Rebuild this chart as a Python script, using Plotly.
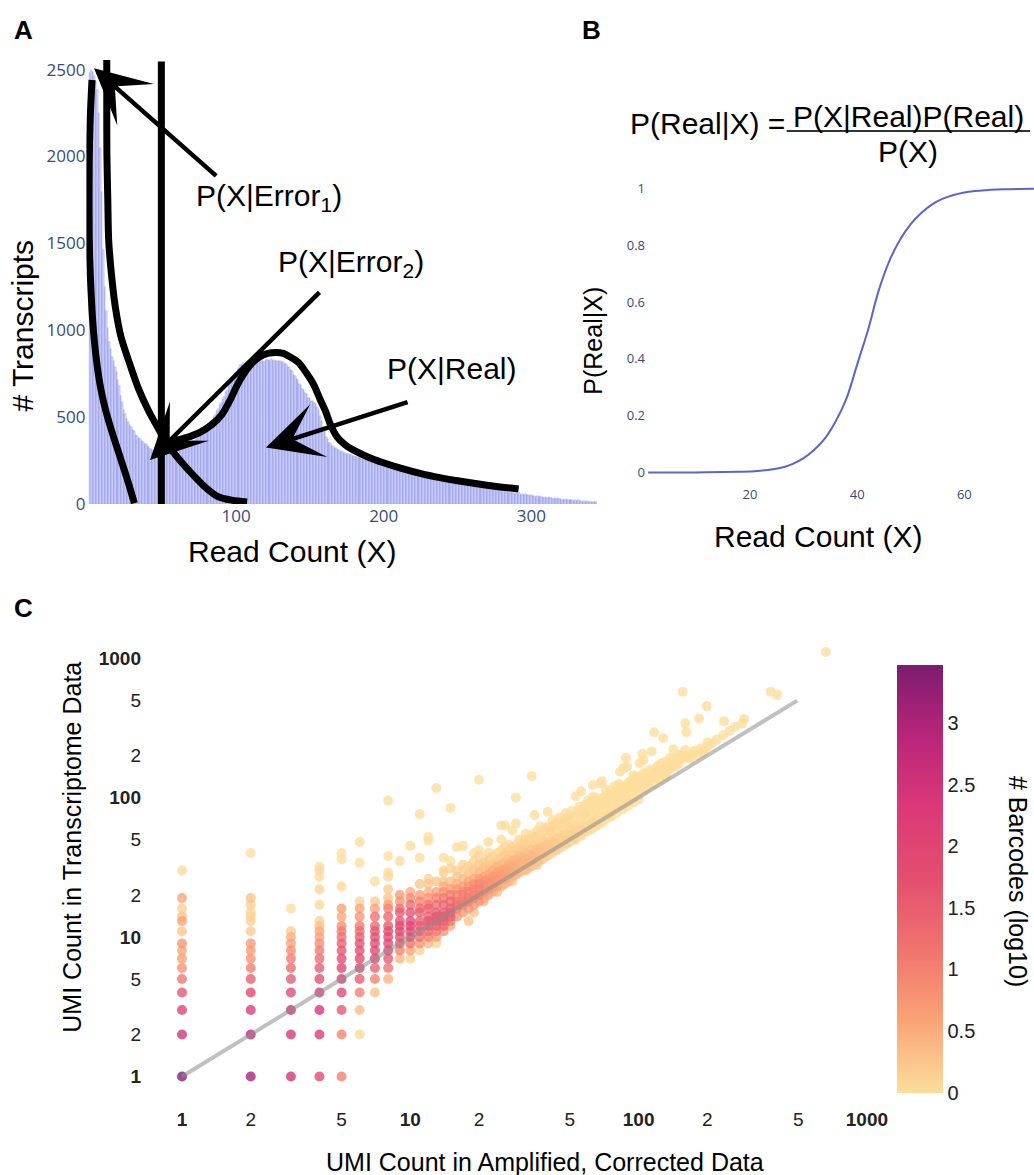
import plotly.graph_objects as go

W, H = 1034, 1175


def fx(p):
    return p / W


def fy(p):
    return 1 - p / H


# ---------------- Panel A : read-count histogram ----------------
read_count = list(range(1, 345))
transcripts = [
    2480, 2500, 2488, 2462, 2436, 2385, 2248, 2046, 1795, 1462,
    1246, 1108, 1012, 931, 889, 846, 821, 786, 761, 716,
    676, 621, 587, 541, 518, 489, 474, 452, 444, 423,
    417, 398, 393, 379, 375, 361, 359, 346, 343, 331,
    329, 318, 317, 307, 309, 297, 300, 291, 294, 286,
    292, 285, 294, 290, 297, 294, 302, 299, 307, 304,
    313, 311, 322, 320, 332, 331, 342, 342, 351, 349,
    361, 363, 375, 378, 394, 399, 415, 420, 436, 440,
    455, 460, 478, 485, 503, 512, 535, 545, 568, 580,
    605, 617, 644, 657, 684, 697, 721, 731, 753, 762,
    779, 784, 799, 800, 811, 808, 818, 809, 821, 817,
    819, 819, 822, 821, 824, 823, 826, 825, 819, 829,
    826, 827, 824, 833, 820, 831, 822, 825, 823, 823,
    815, 817, 805, 804, 789, 787, 769, 763, 745, 738,
    718, 711, 691, 683, 664, 656, 638, 631, 612, 607,
    593, 593, 582, 578, 559, 543, 507, 478, 437, 413,
    385, 373, 353, 348, 334, 333, 321, 321, 310, 311,
    301, 303, 293, 296, 287, 289, 280, 283, 274, 277,
    268, 271, 262, 266, 257, 261, 252, 255, 247, 250,
    242, 245, 237, 241, 233, 237, 228, 232, 224, 228,
    220, 224, 216, 221, 213, 217, 209, 213, 206, 210,
    202, 206, 198, 203, 195, 199, 192, 196, 188, 192,
    184, 188, 181, 185, 177, 181, 173, 178, 169, 174,
    165, 170, 161, 167, 157, 163, 153, 159, 149, 155,
    145, 151, 141, 147, 137, 143, 133, 139, 129, 135,
    125, 131, 121, 127, 117, 123, 113, 119, 109, 115,
    105, 111, 101, 107, 97, 103, 94, 99, 91, 96,
    87, 92, 84, 89, 81, 85, 78, 82, 74, 79,
    71, 76, 68, 73, 65, 70, 62, 67, 59, 64,
    56, 61, 54, 58, 51, 56, 49, 53, 46, 51,
    44, 48, 42, 46, 40, 44, 38, 42, 36, 40,
    34, 38, 32, 36, 30, 34, 29, 32, 27, 30,
    25, 28, 23, 26, 22, 25, 20, 23, 19, 21,
    17, 20, 16, 18, 14, 17, 13, 15, 12, 14,
    10, 12, 9, 10,
]

# hand-drawn model curves over the histogram
error1_x = [2.3, 1.0, 0.4, 0.3, 0.6, 1.5, 2.8, 5.0, 8.2, 12.5, 17.2, 22.5, 27.0, 31.0]
error1_y = [2440, 2200, 1950, 1700, 1450, 1250, 1050, 850, 666, 510, 378, 240, 120, 5]
error2_x = [12.3, 12.3, 12.4, 13.0, 13.6, 15.5, 18.1, 22.0, 27.2, 33.5, 40.7, 47.5,
            54.3, 62.0, 70.1, 78.0, 87.0, 97.0, 107.4]
error2_y = [2555, 2300, 2009, 1750, 1519, 1320, 1134, 960, 823, 670, 535, 430,
            334, 250, 173, 105, 46, 22, 12]
threshold_x = [49.3, 49.3]
threshold_y = [0, 2546]
real_x = [50, 62, 75, 84, 90.4, 96, 100.8, 106, 111.1, 116, 121.5, 127, 131.9, 137,
          142.3, 147.5, 152.6, 157, 160.4, 164, 168.2, 174, 181.2, 190, 199.3, 212,
          225.3, 238, 251.2, 270, 291.4]
real_y = [360, 372, 410, 460, 516, 600, 686, 760, 814, 848, 867, 872, 867, 845,
          814, 755, 686, 600, 537, 455, 388, 340, 303, 268, 239, 205,
          175, 152, 132, 108, 86]

# labels and arrows: (text, x, y) and (tail_x, tail_y, tip_x, tip_y)
a_labels = [("P(X|Error<sub>1</sub>)", 122.2, 1762),
            ("P(X|Error<sub>2</sub>)", 177.9, 1385),
            ("P(X|Real)", 246.6, 782)]
a_arrows = [(87.8, 1878, 3.7, 2508),
            (157.8, 1229, 41.6, 253),
            (217.5, 590, 120.2, 325)]

# ---------------- Panel B : posterior ----------------
b_read = [1, 5, 10, 15, 18, 20, 22, 24, 26, 28, 30, 32, 34, 36, 38, 40, 42, 44, 46,
          48, 50, 52, 54, 56, 58, 60, 62, 64, 66, 68, 70, 73]
b_prob = [0.0, 0.0, 0.0, 0.001, 0.002, 0.003, 0.006, 0.010, 0.017, 0.030, 0.050,
          0.080, 0.120, 0.180, 0.260, 0.380, 0.500, 0.640, 0.745, 0.820, 0.875,
          0.915, 0.945, 0.965, 0.978, 0.987, 0.992, 0.995, 0.997, 0.998, 0.999, 1.0]

# ---------------- Panel C : UMI counts (x, y, log10 #barcodes) ----------------
points_low = [
    (1, 1, 3.475), (1, 2, 2.55), (1, 3, 2.15), (1, 4, 1.65), (1, 5, 1.15), (1, 6, 0.8),
    (1, 7, 0.65), (1, 8, 0.55), (1, 9, 0.75), (1, 11, 0.25), (1, 13, 0.6), (1, 14, 0.3),
    (1, 16, 0.15), (1, 19, 0.6), (1, 30, 0.05),
    (2, 1, 3.1), (2, 2, 2.8), (2, 3, 2.3), (2, 4, 1.95), (2, 5, 1.5), (2, 6, 1.05),
    (2, 7, 0.8), (2, 8, 0.7), (2, 9, 0.75), (2, 11, 0.2), (2, 13, 0.15), (2, 14, 0.1),
    (2, 15, 0.1), (2, 17, 0.15), (2, 19, 0.3), (2, 40, 0.0),
    (3, 1, 2.5), (3, 2, 2.45), (3, 3, 2.6), (3, 4, 1.95), (3, 5, 1.55), (3, 6, 1.3),
    (3, 7, 1.1), (3, 8, 0.85), (3, 9, 0.6), (3, 10, 0.45), (3, 11, 0.2), (3, 16, 0.0),
    (4, 1, 2.0), (4, 2, 2.35), (4, 3, 2.5), (4, 4, 2.3), (4, 5, 1.85), (4, 6, 1.55),
    (4, 7, 1.3), (4, 8, 1.1), (4, 9, 0.85), (4, 10, 0.6), (4, 11, 0.5), (4, 12, 0.3),
    (4, 13, 0.15), (4, 17, 0.05), (4, 22, 0.1), (4, 27, 0.0), (4, 30, 0.05), (4, 32, 0.0),
    (5, 1, 1.05), (5, 2, 1.0), (5, 3, 1.65), (5, 4, 1.95), (5, 5, 2.3), (5, 6, 2.05),
    (5, 7, 1.85), (5, 8, 1.65), (5, 9, 1.45), (5, 10, 1.25), (5, 11, 1.05), (5, 12, 0.85),
    (5, 14, 0.55), (5, 16, 0.6), (5, 23, 0.05), (5, 36, 0.0), (5, 40, 0.0),
    (6, 2, 0.05), (6, 3, 0.35), (6, 4, 1.05), (6, 5, 1.55), (6, 6, 2.15), (6, 7, 1.95),
    (6, 8, 1.85), (6, 9, 1.7), (6, 10, 1.5), (6, 11, 1.3), (6, 12, 1.1), (6, 14, 0.8),
    (6, 16, 0.6), (6, 18, 0.1), (6, 34, 0.0), (6, 48, 0.0),
    (7, 4, 0.3), (7, 5, 1.0), (7, 6, 1.45), (7, 7, 1.95), (7, 8, 1.95), (7, 9, 1.85),
    (7, 10, 1.7), (7, 11, 1.6), (7, 12, 1.4), (7, 14, 1.2), (7, 16, 0.6), (7, 18, 0.2),
    (7, 25, 0.0),
    (8, 5, 0.45), (8, 6, 1.2), (8, 7, 1.6), (8, 8, 1.85), (8, 9, 1.95), (8, 10, 1.9),
    (8, 11, 1.8), (8, 12, 1.65), (8, 14, 1.4), (8, 16, 1.0), (8, 17, 0.6), (8, 19, 0.3),
    (8, 22, 0.2), (8, 27, 0.05), (8, 29, 0.0), (8, 38, 0.0), (8, 95, 0.0),
    (9, 7, 0.4), (9, 8, 1.0), (9, 9, 1.45), (9, 10, 1.75), (9, 11, 1.85), (9, 12, 1.85),
    (9, 13, 1.7), (9, 15, 1.5), (9, 16, 1.2), (9, 18, 0.8), (9, 20, 0.7), (9, 35, 0.0),
    (10, 7, 0.15), (10, 8, 0.6), (10, 9, 1.2), (10, 10, 1.65), (10, 11, 1.85), (10, 12, 2.0),
    (10, 13, 1.9), (10, 15, 1.7), (10, 17, 1.3), (10, 19, 0.9), (10, 21, 0.5), (10, 45, 0.0),
    (11, 8, 0.15), (11, 9, 0.8), (11, 10, 1.2), (11, 11, 1.45), (11, 12, 1.5), (11, 13, 1.5),
    (11, 15, 1.45), (11, 16, 1.3), (11, 18, 1.0), (11, 20, 0.65), (11, 24, 0.25), (11, 37, 0.0),
    (11, 76, 0.0),
    (12, 9, 0.4), (12, 10, 1.0), (12, 11, 1.3), (12, 12, 1.5), (12, 13, 1.6), (12, 14, 1.55),
    (12, 16, 1.4), (12, 17, 1.15), (12, 19, 0.8), (12, 21, 0.4), (12, 24, 0.25), (12, 26, 0.15),
    (12, 49, 0.0), (12, 52, 0.0),
    (13, 9, 0.1), (13, 10, 0.65), (13, 11, 1.1), (13, 12, 1.45), (13, 13, 1.6), (13, 14, 1.6),
    (13, 15, 1.5), (13, 17, 1.3), (13, 19, 1.0), (13, 21, 0.65), (13, 25, 0.25), (13, 117, 0.0),
    (14, 11, 0.8), (14, 12, 1.3), (14, 13, 1.5), (14, 14, 1.6), (14, 15, 1.55), (14, 17, 1.4),
    (14, 19, 1.1), (14, 21, 0.8), (14, 23, 0.5), (14, 25, 0.25), (14, 29, 0.1),
    (15, 12, 0.5), (15, 13, 1.1), (15, 14, 1.45), (15, 15, 1.5), (15, 16, 1.5), (15, 18, 1.3),
    (15, 20, 1.05), (15, 22, 0.7), (15, 25, 0.3), (15, 31, 0.1), (15, 84, 0.0),
]
points_core = [
    (16, 14, 0.75), (16, 16, 1.05), (16, 17, 1.15), (16, 18, 1.1), (16, 20, 0.95),
    (16, 22, 0.7), (16, 24, 0.45), (16, 27, 0.2),
    (17, 15, 0.7), (17, 17, 1.0), (17, 18, 1.1), (17, 20, 1.05), (17, 21, 0.9),
    (17, 23, 0.65), (17, 26, 0.35), (17, 30, 0.1),
    (18, 13, 0.25), (18, 16, 0.75), (18, 18, 1.0), (18, 19, 1.05), (18, 21, 1.0),
    (18, 23, 0.8), (18, 25, 0.55), (18, 28, 0.25), (18, 32, 0.1),
    (19, 15, 0.3), (19, 17, 0.7), (19, 19, 0.95), (19, 20, 1.0), (19, 22, 0.95),
    (19, 24, 0.8), (19, 26, 0.55), (19, 30, 0.25),
    (20, 18, 0.75), (20, 20, 0.95), (20, 22, 1.0), (20, 24, 0.9), (20, 26, 0.7),
    (20, 29, 0.35), (20, 33, 0.2), (20, 134, 0.0),
    (21, 18, 0.35), (21, 19, 0.6), (21, 21, 0.8), (21, 23, 0.85), (21, 25, 0.8),
    (21, 27, 0.55), (21, 31, 0.25),
    (22, 20, 0.6), (22, 22, 0.75), (22, 24, 0.8), (22, 26, 0.7), (22, 28, 0.55),
    (22, 31, 0.3), (22, 35, 0.1), (22, 48, 0.0),
    (23, 21, 0.5), (23, 23, 0.7), (23, 25, 0.75), (23, 27, 0.7), (23, 30, 0.45), (23, 33, 0.2),
    (24, 21, 0.3), (24, 23, 0.55), (24, 25, 0.7), (24, 27, 0.7), (24, 29, 0.6),
    (24, 32, 0.4), (24, 36, 0.15),
    (25, 23, 0.45), (25, 26, 0.6), (25, 28, 0.65), (25, 30, 0.55), (25, 33, 0.35),
    (25, 37, 0.15), (25, 63, 0.0),
    (26, 24, 0.4), (26, 26, 0.55), (26, 29, 0.6), (26, 31, 0.5), (26, 34, 0.3),
    (26, 40, 0.1), (26, 63, 0.0),
    (27, 25, 0.35), (27, 28, 0.55), (27, 30, 0.55), (27, 33, 0.45), (27, 36, 0.25),
    (28, 25, 0.2), (28, 27, 0.4), (28, 29, 0.5), (28, 32, 0.5), (28, 35, 0.4), (28, 39, 0.2),
    (29, 28, 0.4), (29, 31, 0.45), (29, 33, 0.45), (29, 36, 0.35), (29, 41, 0.15),
    (29, 65, 0.0), (29, 100, 0.0),
    (30, 29, 0.35), (30, 32, 0.4), (30, 35, 0.4), (30, 38, 0.3), (30, 44, 0.1),
]
points_high = [
    (31, 30, 0.35), (31, 34, 0.45), (31, 37, 0.35), (31, 42, 0.2),
    (32, 30, 0.3), (32, 33, 0.4), (32, 36, 0.4), (32, 40, 0.25), (32, 46, 0.1),
    (33, 31, 0.25), (33, 35, 0.4), (33, 39, 0.3), (33, 44, 0.15),
    (34, 32, 0.25), (34, 35, 0.4), (34, 38, 0.4), (34, 42, 0.25), (34, 48, 0.05), (34, 142, 0.0),
    (35, 33, 0.2), (35, 37, 0.35), (35, 40, 0.3), (35, 45, 0.15), (35, 75, 0.0),
    (36, 33, 0.2), (36, 35, 0.25), (36, 39, 0.3), (36, 43, 0.25), (36, 50, 0.05),
    (37, 36, 0.2), (37, 41, 0.3), (37, 46, 0.15),
    (38, 36, 0.2), (38, 40, 0.3), (38, 44, 0.25), (38, 49, 0.1),
    (39, 38, 0.15), (39, 43, 0.25), (39, 48, 0.15),
    (40, 38, 0.15), (40, 42, 0.25), (40, 46, 0.25), (40, 52, 0.1), (40, 79, 0.0),
    (42, 40, 0.15), (42, 44, 0.2), (42, 48, 0.2), (42, 55, 0.05),
    (43, 42, 0.15), (43, 47, 0.2), (43, 51, 0.1),
    (44, 42, 0.15), (44, 46, 0.2), (44, 51, 0.15), (44, 58, 0.05),
    (46, 44, 0.1), (46, 48, 0.15), (46, 53, 0.15), (46, 60, 0.0),
    (47, 47, 0.15), (47, 52, 0.1),
    (48, 46, 0.1), (48, 50, 0.15), (48, 55, 0.1), (48, 63, 0.0),
    (50, 48, 0.1), (50, 53, 0.15), (50, 58, 0.1), (50, 66, 0.0),
    (52, 51, 0.1), (52, 56, 0.1), (52, 61, 0.05),
    (53, 50, 0.05), (53, 56, 0.1), (53, 62, 0.05), (53, 102, 0.0),
    (55, 54, 0.05), (55, 59, 0.1), (55, 65, 0.0),
    (56, 53, 0.05), (56, 59, 0.1), (56, 66, 0.0), (56, 72, 0.0), (56, 111, 0.0),
    (58, 57, 0.05), (58, 62, 0.05), (58, 88, 0.0),
    (60, 57, 0.0), (60, 63, 0.05), (60, 70, 0.0), (60, 78, 0.0), (60, 95, 0.0),
    (62, 60, 0.0), (62, 66, 0.05), (62, 92, 0.0),
    (63, 60, 0.0), (63, 67, 0.05), (63, 75, 0.0), (63, 123, 0.0),
    (65, 64, 0.0), (65, 70, 0.0), (65, 100, 0.0),
    (66, 63, 0.0), (66, 70, 0.0), (66, 79, 0.0),
    (68, 67, 0.0), (68, 73, 0.0), (68, 97, 0.0),
    (69, 66, 0.0), (69, 74, 0.0), (69, 84, 0.0), (69, 131, 0.0),
    (72, 70, 0.0), (72, 77, 0.0), (72, 88, 0.0), (72, 93, 0.0),
    (75, 74, 0.0), (75, 80, 0.0), (75, 112, 0.0),
    (76, 73, 0.0), (76, 81, 0.0), (76, 92, 0.0),
    (78, 83, 0.0), (78, 108, 0.0), (78, 120, 0.0),
    (80, 77, 0.0), (80, 85, 0.0), (80, 97, 0.0),
    (82, 88, 0.0), (82, 125, 0.0), (84, 118, 0.0),
    (85, 82, 0.0), (85, 90, 0.0), (85, 103, 0.0), (86, 163, 0.0),
    (88, 92, 0.0), (88, 100, 0.0), (88, 115, 0.0), (88, 192, 0.0),
    (90, 87, 0.0), (90, 96, 0.0), (90, 110, 0.0), (90, 128, 0.0),
    (93, 120, 0.0), (94, 135, 0.0),
    (95, 92, 0.0), (95, 102, 0.0), (95, 118, 0.0), (95, 144, 0.0),
    (97, 130, 0.0), (98, 140, 0.0),
    (100, 97, 0.0), (100, 108, 0.0), (100, 125, 0.0),
    (102, 138, 0.0), (104, 206, 0.0),
    (105, 112, 0.0), (105, 132, 0.0), (105, 186, 0.0),
    (106, 150, 0.0), (108, 125, 0.0), (110, 118, 0.0), (110, 140, 0.0),
    (112, 158, 0.0), (113, 135, 0.0), (114, 214, 0.0),
    (117, 125, 0.0), (117, 147, 0.0), (117, 293, 0.0),
    (118, 160, 0.0), (120, 145, 0.0), (122, 170, 0.0),
    (124, 133, 0.0), (124, 155, 0.0), (126, 175, 0.0), (127, 150, 0.0),
    (128, 145, 0.0), (128, 267, 0.0), (130, 180, 0.0),
    (132, 140, 0.0), (132, 165, 0.0), (134, 172, 0.0), (135, 160, 0.0),
    (137, 192, 0.0), (139, 162, 0.0), (140, 188, 0.0), (142, 221, 0.0),
    (143, 170, 0.0), (145, 180, 0.0), (147, 194, 0.0),
    (150, 175, 0.0), (150, 200, 0.0), (155, 205, 0.0), (156, 574, 0.0),
    (158, 190, 0.0), (160, 219, 0.0), (160, 340, 0.0), (162, 293, 0.0),
    (165, 195, 0.0), (172, 205, 0.0), (180, 200, 0.0), (184, 369, 0.0),
    (190, 210, 0.0), (193, 217, 0.0), (199, 452, 0.0), (200, 230, 0.0), (200, 248, 0.0),
    (210, 245, 0.0), (220, 260, 0.0), (235, 280, 0.0), (237, 352, 0.0),
    (250, 300, 0.0), (265, 320, 0.0), (285, 340, 0.0), (290, 365, 0.0),
    (379, 574, 0.0), (405, 544, 0.0), (661, 1104, 0.0),
]
points_band = [
    (14, 30, 0.1), (14, 37, 0.0), (15, 35, 0.0), (16, 30, 0.15), (16, 44, 0.0),
    (17, 33, 0.1), (17, 45, 0.0), (18, 32, 0.1), (19, 40, 0.0), (19, 35, 0.1),
    (20, 42, 0.0), (20, 38, 0.1), (21, 34, 0.2), (22, 36, 0.1), (22, 40, 0.05),
    (23, 38, 0.1), (24, 40, 0.05), (24, 34, 0.2), (25, 42, 0.05), (25, 50, 0.0),
    (26, 44, 0.05), (26, 38, 0.2), (27, 41, 0.15), (27, 46, 0.05), (28, 44, 0.1),
    (28, 58, 0.0), (29, 46, 0.05), (30, 50, 0.05), (30, 41, 0.2), (31, 47, 0.1),
    (32, 55, 0.0), (32, 50, 0.05), (33, 49, 0.1), (34, 54, 0.05), (35, 52, 0.1),
    (36, 58, 0.0), (37, 62, 0.0), (37, 54, 0.05), (38, 57, 0.05), (39, 60, 0.0),
    (40, 62, 0.05), (41, 58, 0.1), (42, 69, 0.0), (42, 62, 0.05), (43, 64, 0.0),
    (44, 66, 0.05), (45, 72, 0.0), (46, 70, 0.0), (47, 65, 0.05), (48, 77, 0.0),
    (48, 72, 0.0), (49, 68, 0.05), (50, 75, 0.0), (51, 80, 0.0), (52, 72, 0.05),
    (54, 78, 0.0), (55, 86, 0.0), (55, 80, 0.0), (57, 83, 0.0), (58, 76, 0.05),
    (59, 88, 0.0), (61, 85, 0.0), (63, 101, 0.0), (63, 90, 0.0), (64, 82, 0.0),
    (66, 95, 0.0), (68, 126, 0.0), (68, 88, 0.0), (70, 100, 0.0), (71, 92, 0.0),
    (72, 113, 0.0), (74, 105, 0.0), (77, 98, 0.0), (79, 110, 0.0), (81, 104, 0.0),
    (83, 120, 0.0), (83, 153, 0.0), (86, 112, 0.0), (89, 166, 0.0), (92, 128, 0.0),
    (95, 133, 0.0), (96, 115, 0.0), (99, 126, 0.0), (101, 176, 0.0), (103, 145, 0.0),
    (108, 149, 0.0), (111, 130, 0.0), (115, 150, 0.0), (119, 138, 0.0), (121, 160, 0.0),
    (125, 168, 0.0), (133, 152, 0.0), (138, 175, 0.0), (146, 168, 0.0), (152, 185, 0.0),
    (168, 190, 0.0), (175, 215, 0.0), (187, 225, 0.0),
]
identity_line = [1, 495]

log_ticks = [1, 2, 5, 10, 20, 50, 100, 200, 500, 1000]
log_ticktext = ["<b>1</b>", "2", "5", "<b>10</b>", "2", "5", "<b>100</b>", "2", "5",
                "<b>1000</b>"]
cbar_ticks = [0, 0.5, 1, 1.5, 2, 2.5, 3]
cbar_text = ["0", "0.5", "1", "1.5", "2", "2.5", "3"]

# ------------------------------------------------------------------
all_pts = sorted(points_low + points_core + points_high + points_band, key=lambda p: p[2])
umi_amp = [p[0] for p in all_pts]
umi_tx = [p[1] for p in all_pts]
log_bc = [p[2] for p in all_pts]

SANS = "Liberation Sans, Arial, sans-serif"
TICKF = "Open Sans, verdana, arial, sans-serif"
TICKC = "#3a4a78"

fig = go.Figure()

# Panel A
fig.add_trace(go.Bar(x=read_count, y=transcripts, xaxis="x", yaxis="y",
                     marker=dict(color="rgba(99,110,250,0.24)",
                                 line=dict(color="rgba(80,90,210,0.42)", width=0.5))))
for cx, cy in [(error1_x, error1_y), (error2_x, error2_y), (threshold_x, threshold_y),
               (real_x, real_y)]:
    fig.add_trace(go.Scatter(x=cx, y=cy, mode="lines", xaxis="x", yaxis="y",
                             line=dict(color="black", width=7, shape="spline",
                                       smoothing=0.8)))

# Panel B
fig.add_trace(go.Scatter(x=b_read, y=b_prob, mode="lines", xaxis="x2", yaxis="y2",
                         line=dict(color="#5c64c8", width=2, shape="spline")))

# Panel C
fig.add_trace(go.Scatter(
    x=umi_amp, y=umi_tx, mode="markers", xaxis="x3", yaxis="y3",
    marker=dict(size=10, color=log_bc, colorscale="Sunsetdark", cmin=0, cmax=3.475,
                opacity=0.78, line=dict(width=0),
                colorbar=dict(x=fx(897), xanchor="left", xpad=0,
                              y=fy(878.5), yanchor="middle", ypad=0,
                              len=427.5, lenmode="pixels", thickness=46,
                              thicknessmode="pixels", outlinewidth=0, ticks="",
                              tickvals=cbar_ticks, ticktext=cbar_text,
                              tickfont=dict(size=20, color="#222", family=SANS)))))
fig.add_trace(go.Scatter(x=identity_line, y=identity_line, mode="lines",
                         xaxis="x3", yaxis="y3",
                         line=dict(color="rgba(140,140,140,0.55)", width=4)))

annotations = []
for txt, ax_, ay_ in a_labels:
    annotations.append(dict(text=txt, x=ax_, y=ay_, xref="x", yref="y", showarrow=False,
                            font=dict(size=30, color="black", family=SANS)))
for tx, ty, hx, hy in a_arrows:
    annotations.append(dict(text=" ", x=hx, y=hy, ax=tx, ay=ty, xref="x", yref="y",
                            axref="x", ayref="y", showarrow=True, arrowhead=3,
                            arrowsize=2.05, arrowwidth=4.5, arrowcolor="black", standoff=0,
                            font=dict(size=2)))


def paper_text(text, x, y, size, angle=0, bold=False):
    return dict(text=f"<b>{text}</b>" if bold else text, x=fx(x), y=fy(y),
                xref="paper", yref="paper", showarrow=False, textangle=angle,
                xanchor="center", yanchor="middle",
                font=dict(size=size, color="black", family=SANS))


annotations += [
    paper_text("A", 23.7, 29.6, 26, bold=True),
    paper_text("B", 591, 29.6, 26, bold=True),
    paper_text("C", 23.3, 608.3, 26, bold=True),
    paper_text("# Transcripts", 23, 325.6, 30, angle=-90),
    paper_text("Read Count (X)", 292.4, 551.2, 30),
    paper_text("P(Real|X)", 593.3, 340.4, 25, angle=-90),
    paper_text("Read Count (X)", 818.3, 536.4, 30),
    paper_text("P(Real|X) =", 707.5, 123.3, 30),
    paper_text("P(X|Real)P(Real)", 908, 116.7, 30),
    paper_text("P(X)", 908, 151.7, 30),
    paper_text("UMI Count in Transcriptome Data", 71.7, 847, 25, angle=-90),
    paper_text("UMI Count in Amplified, Corrected Data", 545, 1161.7, 25),
    paper_text("# Barcodes (log10)", 1018, 881, 25, angle=90),
]

common = dict(showgrid=False, zeroline=False, showline=False, ticks="", automargin=False)

fig.update_layout(
    width=W, height=H, margin=dict(l=0, r=0, t=0, b=0, pad=0, autoexpand=False),
    paper_bgcolor="white", plot_bgcolor="white", showlegend=False, bargap=0,
    annotations=annotations,
    shapes=[dict(type="line", xref="paper", yref="paper", x0=fx(786.7), x1=fx(1030),
                 y0=fy(131), y1=fy(131), line=dict(color="#333", width=2))],
    xaxis=dict(domain=[fx(86.4), fx(597.1)], range=[-1.5, 344.6],
               tickvals=[100, 200, 300],
               tickfont=dict(size=17, color=TICKC, family=TICKF), anchor="y", **common),
    yaxis=dict(domain=[fy(504), fy(56.05)], range=[0, 2578],
               tickvals=[0, 500, 1000, 1500, 2000, 2500],
               tickfont=dict(size=17, color=TICKC, family=TICKF), anchor="x", **common),
    xaxis2=dict(domain=[fx(646), 1.0], range=[0.6, 73], tickvals=[20, 40, 60],
                tickfont=dict(size=13, color=TICKC, family=TICKF), anchor="y2",
                ticklabelstandoff=4, **common),
    yaxis2=dict(domain=[fy(480.9), fy(180.2)], range=[-0.03, 1.03],
                tickvals=[0, 0.2, 0.4, 0.6, 0.8, 1],
                ticktext=["0", "0.2", "0.4", "0.6", "0.8", "1"],
                tickfont=dict(size=13, color=TICKC, family=TICKF), anchor="x2", **common),
    xaxis3=dict(domain=[fx(146), fx(880)], type="log", range=[-0.1577, 3.0574],
                tickvals=log_ticks, ticktext=log_ticktext, ticklabelstandoff=6,
                tickfont=dict(size=19, color="#222", family=SANS), anchor="y3", **common),
    yaxis3=dict(domain=[fy(1100), fy(640)], type="log", range=[-0.1685, 3.129],
                tickvals=log_ticks, ticktext=log_ticktext, ticklabelstandoff=4,
                tickfont=dict(size=19, color="#222", family=SANS), anchor="x3", **common),
)

fig.write_html("out.html")
